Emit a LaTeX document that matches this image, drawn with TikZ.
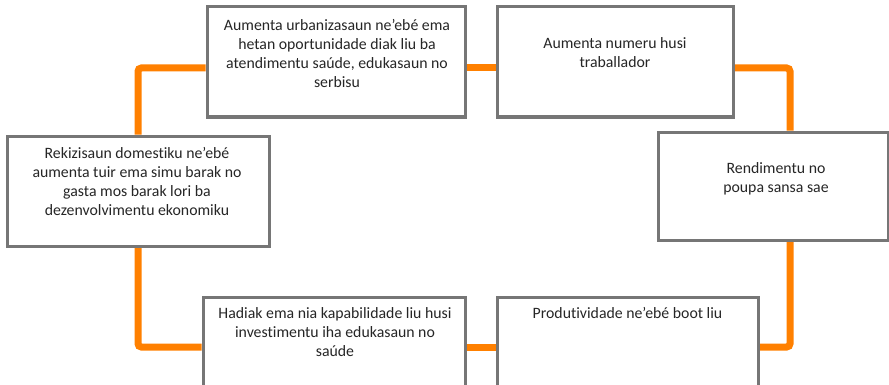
\documentclass[tikz,border=0pt]{standalone}
\usepackage{fontspec}
\setmainfont{Carlito}[Ligatures=NoCommon]
\usetikzlibrary{calc,backgrounds}
\definecolor{loopor}{HTML}{FF8000}
\definecolor{boxgray}{HTML}{767676}
\definecolor{txt}{HTML}{262626}
\begin{document}
\begin{tikzpicture}[x=0.75pt,y=-0.75pt,
  box/.style={draw=boxgray,line width=2.25pt,fill=white,inner sep=0pt,rectangle},
  conn/.style={draw=loopor,line width=5.25pt,rounded corners=2.5pt},
  lbl/.style={anchor=north,inner sep=0pt,align=center,text=txt,
    font=\fontsize{11.85pt}{14.2pt}\selectfont}]
\useasboundingbox (0,0) rectangle (889,385);
% boxes
\node[box,minimum width=193.5pt,minimum height=82.5pt] (A) at (336,62) {};
\node[box,minimum width=177pt,minimum height=82.5pt] (B) at (615,62) {};
\node[box,minimum width=172.5pt,minimum height=81pt] (C) at (773,186) {};
\node[box,minimum width=195.75pt,minimum height=71.25pt] (D) at (627.5,344.5) {};
\node[box,minimum width=196.5pt,minimum height=71.25pt] (E) at (334,344.5) {};
\node[box,minimum width=196.5pt,minimum height=82.5pt] (F) at (138,191) {};
% connectors (behind boxes)
\begin{scope}[on background layer]
\draw[conn] (F.north) |- ($(A.west)+(0,6)$);
\draw[conn] ($(A.east)+(0,6)$) -- ($(B.west)+(0,6)$);
\draw[conn] ($(B.east)+(0,6)$) -| ($(C.north)+(17,0)$);
\draw[conn] ($(C.south)+(17,0)$) |- ($(D.east)+(0,2.5)$);
\draw[conn] ($(D.west)+(0,2.5)$) -- ($(E.east)+(0,2.5)$);
\draw[conn] ($(E.west)+(0,2.5)$) -| (F.south);
\end{scope}
% texts
\node[lbl] (At) at ($(A.north)+(1,14)$) {Aumenta urbanizasaun ne’ebé ema\\hetan oportunidade diak liu ba\\atendimentu saúde, edukasaun no\\serbisu};
\node[lbl] (Bt) at ($(B.north)+(0,32)$) {Aumenta numeru husi\\traballador};
\node[lbl] (Ct) at ($(C.north)+(3,32)$) {Rendimentu no\\poupa sansa sae};
\node[lbl] (Dt) at ($(D.north)+(0,12)$) {Produtividade ne’ebé boot liu};
\node[lbl] (Et) at ($(E.north)+(1,12)$) {Hadiak ema nia kapabilidade liu husi\\investimentu iha edukasaun no\\saúde};
\node[lbl] (Ft) at ($(F.north)+(-1,13)$) {Rekizisaun domestiku ne’ebé\\aumenta tuir ema simu barak no\\gasta mos barak lori ba\\dezenvolvimentu ekonomiku};
\end{tikzpicture}
\end{document}
